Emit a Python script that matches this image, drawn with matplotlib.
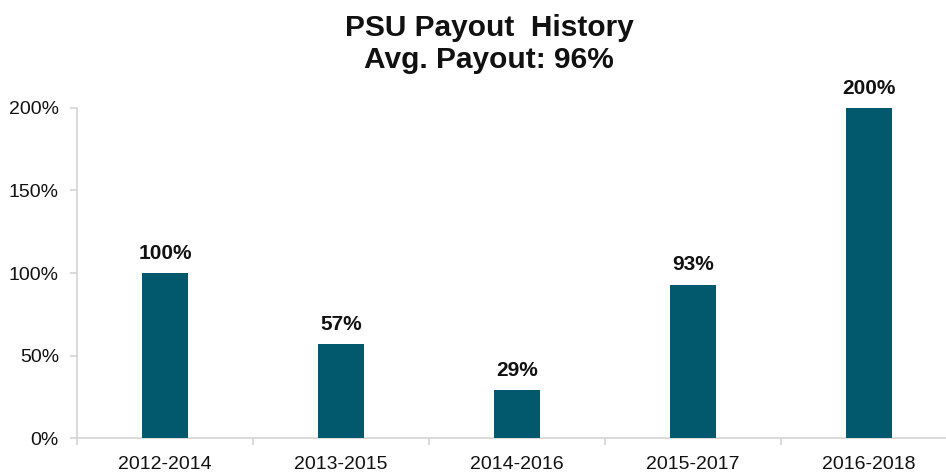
import matplotlib
matplotlib.use("Agg")
import matplotlib.pyplot as plt
import numpy as np
from matplotlib.ticker import FuncFormatter, FixedLocator

categories = ["2012-2014", "2013-2015", "2014-2016", "2015-2017", "2016-2018"]
payouts = [100, 57, 29, 93, 200]
yticks = [0, 50, 100, 150, 200]
title = "PSU Payout  History\nAvg. Payout: 96%"

plt.rcParams['font.family'] = ['Liberation Sans', 'DejaVu Sans']

W, H = 946, 473
fig = plt.figure(figsize=(W / 100, H / 100), dpi=100)
left, right, bottom, top = 77, 946, 438, 108
ax = fig.add_axes([left / W, 1 - bottom / H, (right - left) / W, (bottom - top) / H])

x = np.arange(len(categories))
bars = ax.bar(x, payouts, width=0.26, color="#02586c", zorder=3)

for xi, v in zip(x, payouts):
    ax.annotate(f"{v}%", (xi, v), xytext=(0, 7.5), textcoords="offset points",
                ha="center", va="bottom", fontsize=15, fontweight="bold",
                color="#111111", annotation_clip=False)

unit = 176.0
ax.set_xlim(-0.5, -0.5 + (right - left) / unit)
ax.set_ylim(0, 200)
ax.set_yticks(yticks)
ax.yaxis.set_major_formatter(FuncFormatter(lambda v, p: f"{v:.0f}%"))
ax.set_xticks(x)
ax.set_xticklabels(categories)
ax.xaxis.set_minor_locator(FixedLocator(np.arange(len(categories) + 1) - 0.5))

for s in ["top", "right"]:
    ax.spines[s].set_visible(False)
for s in ["left", "bottom"]:
    ax.spines[s].set_color("#d4d4d4")
    ax.spines[s].set_linewidth(1.2)

ax.tick_params(axis="y", which="major", length=5, width=1.2, color="#d4d4d4",
               labelsize=14, labelcolor="#111111", pad=8)
ax.tick_params(axis="x", which="major", length=0, labelsize=14,
               labelcolor="#111111", pad=13)
ax.tick_params(axis="x", which="minor", length=5, width=1.2, color="#d4d4d4")

fig.text(489 / W, 1 - 44 / H, title, ha="center", va="center", fontsize=21.5,
         fontweight="bold", color="#111111", linespacing=1.2)

fig.savefig("out.png", dpi=100)
